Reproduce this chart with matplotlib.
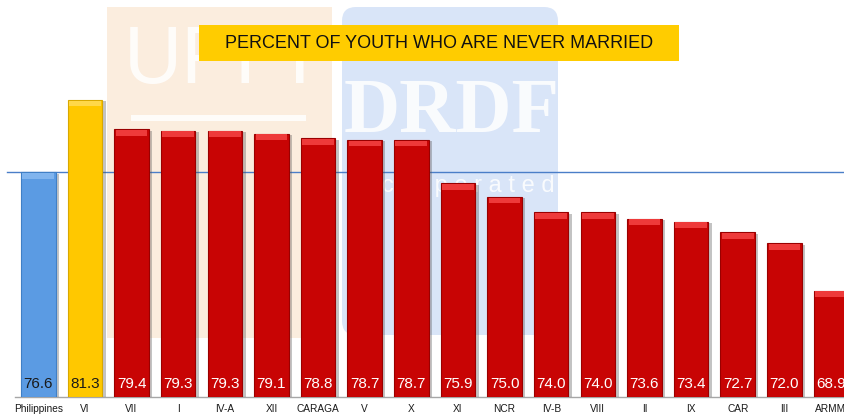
import matplotlib
matplotlib.use("Agg")
import matplotlib.pyplot as plt
from matplotlib.patches import Rectangle, FancyBboxPatch
import matplotlib.patheffects as pe

categories = ["Philippines", "VI", "VII", "I", "IV-A", "XII", "CARAGA", "V", "X",
              "XI", "NCR", "IV-B", "VIII", "II", "IX", "CAR", "III", "ARMM"]
values = [76.6, 81.3, 79.4, 79.3, 79.3, 79.1, 78.8, 78.7, 78.7,
          75.9, 75.0, 74.0, 74.0, 73.6, 73.4, 72.7, 72.0, 68.9]
national = 76.6
title = "PERCENT OF YOUTH WHO ARE NEVER MARRIED"

W, H = 845, 415
fig = plt.figure(figsize=(W / 100, H / 100), dpi=100)
fig.patch.set_facecolor("white")

FONT = ["Liberation Sans", "DejaVu Sans"]

# background axes in pixel coordinates (origin top-left) for the watermark logos
bg = fig.add_axes([0, 0, 1, 1], zorder=0)
bg.set_xlim(0, W)
bg.set_ylim(H, 0)
bg.axis("off")
bg.add_patch(Rectangle((107, 7), 225, 331, facecolor="#FBEDDE", edgecolor="none"))
bg.add_patch(FancyBboxPatch((342, 7), 216, 328, boxstyle="round,pad=0,rounding_size=14",
                            facecolor="#D9E5F8", edgecolor="none"))
bg.add_patch(Rectangle((131, 115), 175, 6, facecolor="white", alpha=0.85, edgecolor="none"))
bg.text(218, 62, "UPPI", color="white", alpha=0.85, fontsize=58, family=FONT,
        ha="center", va="center")
bg.text(452, 113, "DRDF", color="white", alpha=0.85, fontsize=56, fontweight="bold",
        family=["Liberation Serif", "DejaVu Serif"], ha="center", va="center")
bg.text(452, 186, "I n c o r p o r a t e d", color="white", alpha=0.85, fontsize=17,
        family=FONT, ha="center", va="center")

# main chart axes
ax = fig.add_axes([15 / W, 18 / H, 1 - 15 / W, 397 / H], zorder=1)
ax.patch.set_alpha(0)
ymin, ymax = 62, 87.8
ax.set_ylim(ymin, ymax)
ax.set_xlim(-0.5, 17.3)

face = ["#5B9BE3", "#FFC800"] + ["#C80404"] * (len(values) - 2)
edge = ["#3F7FC6", "#D9A800"] + ["#9A0000"] * (len(values) - 2)
bevel = ["#80B4EE", "#FFD84A"] + ["#EE3A3A"] * (len(values) - 2)
txtc = ["#1a1a1a", "#1a1a1a"] + ["white"] * (len(values) - 2)

x = list(range(len(categories)))
bars = ax.bar(x, [v - ymin for v in values], bottom=ymin, width=0.74,
              color=face, edgecolor=edge, linewidth=0.8, zorder=3)
for b in bars:
    b.set_path_effects([pe.SimplePatchShadow(offset=(2.5, -1), alpha=0.35, shadow_rgbFace="#555555"),
                        pe.Normal()])

for b, hl in zip(bars, bevel):
    ax.add_patch(Rectangle((b.get_x() + 0.03, b.get_y() + b.get_height() - 0.42),
                           b.get_width() - 0.06, 0.38, facecolor=hl, edgecolor="none", zorder=4))

for i, (v, c) in enumerate(zip(values, txtc)):
    ax.annotate(f"{v:.1f}", xy=(i, ymin), xytext=(0, 6.5), textcoords="offset points",
                ha="center", va="baseline", color=c, fontsize=11, family=FONT, zorder=5)

ax.axhline(national, xmin=-0.01, xmax=1, color="#4A7EC8", linewidth=1.0, clip_on=False, zorder=2)

for s in ["top", "right", "left"]:
    ax.spines[s].set_visible(False)
ax.spines["bottom"].set_color("#A6A6A6")
ax.spines["bottom"].set_linewidth(1.0)
ax.set_yticks([])
ax.set_xticks(x)
ax.set_xticklabels(categories, fontsize=7.3, family=FONT, color="#1a1a1a")
ax.tick_params(axis="x", length=0, pad=5)

# title box on top
top = fig.add_axes([0, 0, 1, 1], zorder=2)
top.set_xlim(0, W)
top.set_ylim(H, 0)
top.axis("off")
top.patch.set_alpha(0)
top.add_patch(Rectangle((199, 25), 480, 36, facecolor="#FFCC00", edgecolor="none"))
top.text(439, 44, title, ha="center", va="center", fontsize=13, color="#111111", family=FONT)

fig.savefig("out.png", dpi=100)
